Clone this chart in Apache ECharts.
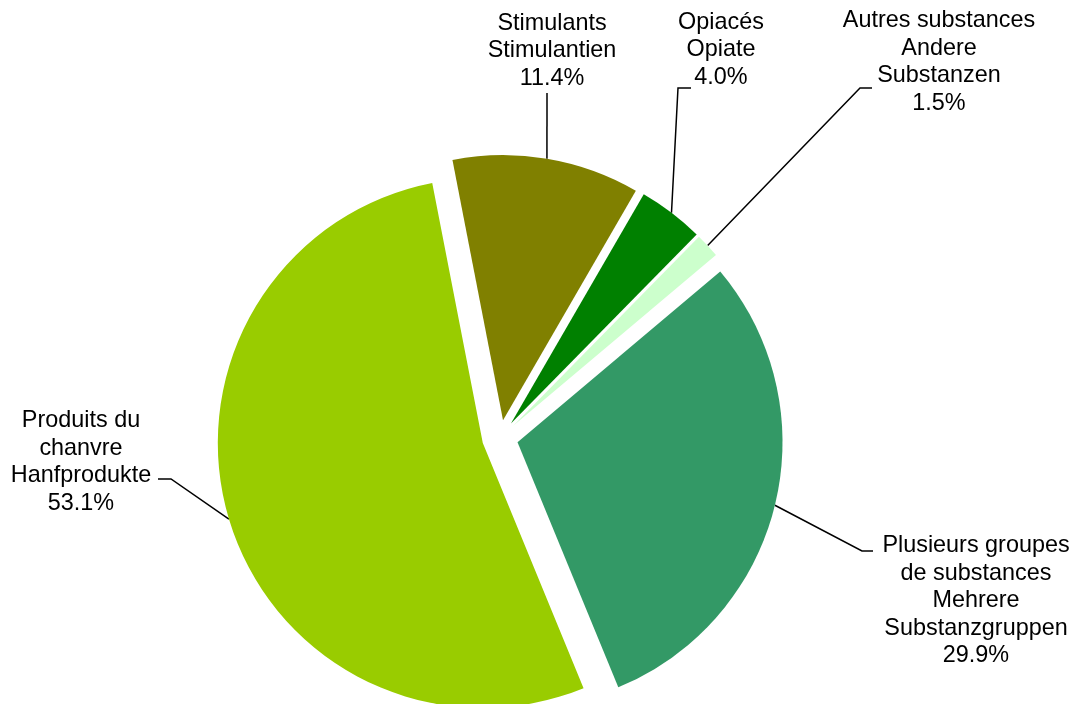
<!DOCTYPE html>
<html>
<head>
<meta charset="utf-8">
<script src="https://cdn.jsdelivr.net/npm/echarts@6/dist/echarts.min.js"></script>
<style>
html, body { margin: 0; background: #fff; }
#chart { width: 1080px; height: 704px; }
</style>
</head>
<body>
<div id="chart"></div>
<script>
var categories = [
	'Stimulants\nStimulantien',
	'Opiacés\nOpiate',
	'Autres substances\nAndere\nSubstanzen',
	'Plusieurs groupes\nde substances\nMehrere\nSubstanzgruppen',
	'Produits du\nchanvre\nHanfprodukte'
];
var shares = [11.4, 4.0, 1.5, 29.9, 53.1];
var sliceColors = ['#808000', '#008000', '#CCFFCC', '#339966', '#99CC00'];

// where the labels sit, and where the leader lines bend / stop (px)
var labelPos = [[552, 51], [721, 50], [939, 62], [976, 601], [81, 462]];
var leaderKnee = [[547, 93], [678, 88], [860, 88], [862, 551], [171, 479]];
var leaderEnd = [[547, 93], [691, 88], [872, 88], [873, 551], [158, 479]];

var pieRadius = 265;
var explode = 18;
var pieCenter = ['46.3%', '62.2%'];

var sliceData = [];
var labelData = [];
for (var i = 0; i < categories.length; i++) {
	sliceData.push({
		name: categories[i],
		value: shares[i],
		selected: true,
		itemStyle: { color: sliceColors[i] }
	});
	labelData.push({ name: categories[i], value: shares[i] });
}

var chart = echarts.init(document.getElementById('chart'));
chart.setOption({
	backgroundColor: '#fff',
	animation: false,
	series: [{
		// exploded slices
		type: 'pie',
		center: pieCenter,
		radius: pieRadius,
		startAngle: 101,
		clockwise: true,
		selectedMode: 'multiple',
		selectedOffset: explode,
		emphasis: { disabled: true },
		itemStyle: { borderWidth: 0 },
		label: { show: false },
		labelLine: { show: false },
		data: sliceData,
		z: 2
	}, {
		// invisible ring whose edge is the outer edge of the exploded slices: carries the labels
		type: 'pie',
		center: pieCenter,
		radius: pieRadius + explode,
		startAngle: 101,
		clockwise: true,
		silent: true,
		avoidLabelOverlap: false,
		emphasis: { disabled: true },
		itemStyle: { color: 'rgba(0,0,0,0)', borderWidth: 0 },
		label: {
			show: true,
			position: 'outside',
			color: '#000',
			fontFamily: 'Liberation Sans',
			fontSize: 23.4,
			lineHeight: 27.5,
			align: 'center',
			formatter: function (p) {
				return p.name + '\n' + p.value.toFixed(1) + '%';
			}
		},
		labelLine: {
			show: true,
			lineStyle: { color: '#000', width: 1.5 }
		},
		labelLayout: function (params) {
			var k = params.dataIndex;
			var start = params.labelLinePoints ? params.labelLinePoints[0] : leaderKnee[k];
			return {
				x: labelPos[k][0],
				y: labelPos[k][1],
				align: 'center',
				verticalAlign: 'middle',
				labelLinePoints: [start, leaderKnee[k], leaderEnd[k]]
			};
		},
		data: labelData,
		z: 1
	}]
});
</script>
</body>
</html>
